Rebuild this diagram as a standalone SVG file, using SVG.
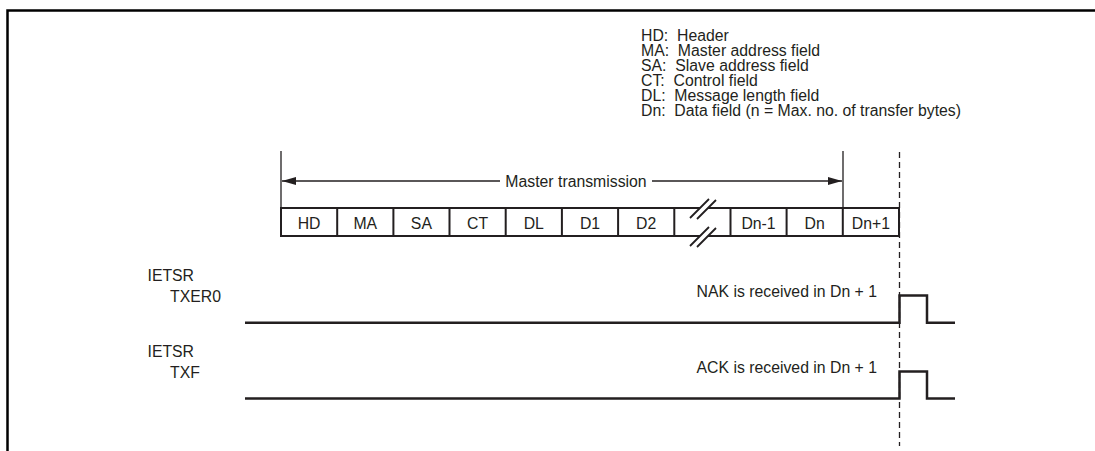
<svg xmlns="http://www.w3.org/2000/svg" width="1095" height="451" viewBox="0 0 1095 451">
<defs>
<style>
text{font-family:"Liberation Sans",Arial,sans-serif;font-size:15.8px;fill:#231f20}
.c{text-anchor:middle}
.r{text-anchor:end}
.box{fill:none;stroke:#231f20;stroke-width:2}
.ln{fill:none;stroke:#231f20;stroke-width:1.3}
.sig{fill:none;stroke:#231f20;stroke-width:2.5;stroke-linejoin:miter}
.dash{fill:none;stroke:#231f20;stroke-width:1.3;stroke-dasharray:6 4}
</style>
<marker id="ah" viewBox="0 0 14 8" refX="14" refY="4" markerWidth="14" markerHeight="8" markerUnits="userSpaceOnUse" orient="auto-start-reverse">
<path d="M0,0 L14,4 L0,8 Z" fill="#231f20"/>
</marker>
</defs>
<rect width="1095" height="451" fill="#fff"/>
<path d="M7.5,451 V10.5 H1095" fill="none" stroke="#000" stroke-width="2.5"/>

<g id="legend">
<text x="641" y="40.5" xml:space="preserve">HD:  Header</text>
<text x="641" y="55.5" xml:space="preserve">MA:  Master address field</text>
<text x="641" y="70.5" xml:space="preserve">SA:  Slave address field</text>
<text x="641" y="85.5" xml:space="preserve">CT:  Control field</text>
<text x="641" y="100.5" xml:space="preserve">DL:  Message length field</text>
<text x="641" y="115.5" xml:space="preserve">Dn:  Data field (n = Max. no. of transfer bytes)</text>
</g>

<g id="frame">
<rect class="box" x="281" y="208" width="618" height="28"/>
<path class="box" d="M337.2,208V236 M393.4,208V236 M449.5,208V236 M505.7,208V236 M561.9,208V236 M618.1,208V236 M674.3,208V236 M730.5,208V236 M786.6,208V236 M842.8,208V236"/>
<text class="c" x="309.1" y="228.5">HD</text>
<text class="c" x="365.3" y="228.5">MA</text>
<text class="c" x="421.4" y="228.5">SA</text>
<text class="c" x="477.6" y="228.5">CT</text>
<text class="c" x="533.8" y="228.5">DL</text>
<text class="c" x="590" y="228.5">D1</text>
<text class="c" x="646.2" y="228.5">D2</text>
<text class="c" x="758.5" y="228.5">Dn-1</text>
<text class="c" x="814.7" y="228.5">Dn</text>
<text class="c" x="870.9" y="228.5">Dn+1</text>
</g>

<g id="break">
<path d="M690,218 L709,199 L716,200 L697,219 Z" fill="#fff"/>
<path d="M690,246 L709,227 L716,228 L697,247 Z" fill="#fff"/>
<path class="ln" d="M690,218 L709,199 M697,219 L716,200 M690,246 L709,227 M697,247 L716,228" style="stroke-width:1.8"/>
</g>

<g id="connectors">
<path class="ln" d="M281,151V208 M843,151V208"/>
<line class="ln" x1="282" y1="181" x2="500" y2="181" marker-start="url(#ah)"/>
<line class="ln" x1="652" y1="181" x2="842" y2="181" marker-end="url(#ah)"/>
<line class="dash" x1="899.5" y1="152" x2="899.5" y2="446"/>
</g>
<text class="c" x="576" y="186.5">Master transmission</text>

<g id="txer0">
<text x="147.5" y="280.5">IETSR</text>
<text x="170" y="301.5">TXER0</text>
<path class="sig" d="M245,322.7 H899.5 V295.5 H927 V322.7 H955"/>
<text class="r" x="877" y="296.5">NAK is received in Dn + 1</text>
</g>

<g id="txf">
<text x="147.5" y="356.5">IETSR</text>
<text x="170" y="377.5">TXF</text>
<path class="sig" d="M245,398.5 H899.5 V371.5 H927 V398.5 H955"/>
<text class="r" x="877" y="372.5">ACK is received in Dn + 1</text>
</g>
</svg>
